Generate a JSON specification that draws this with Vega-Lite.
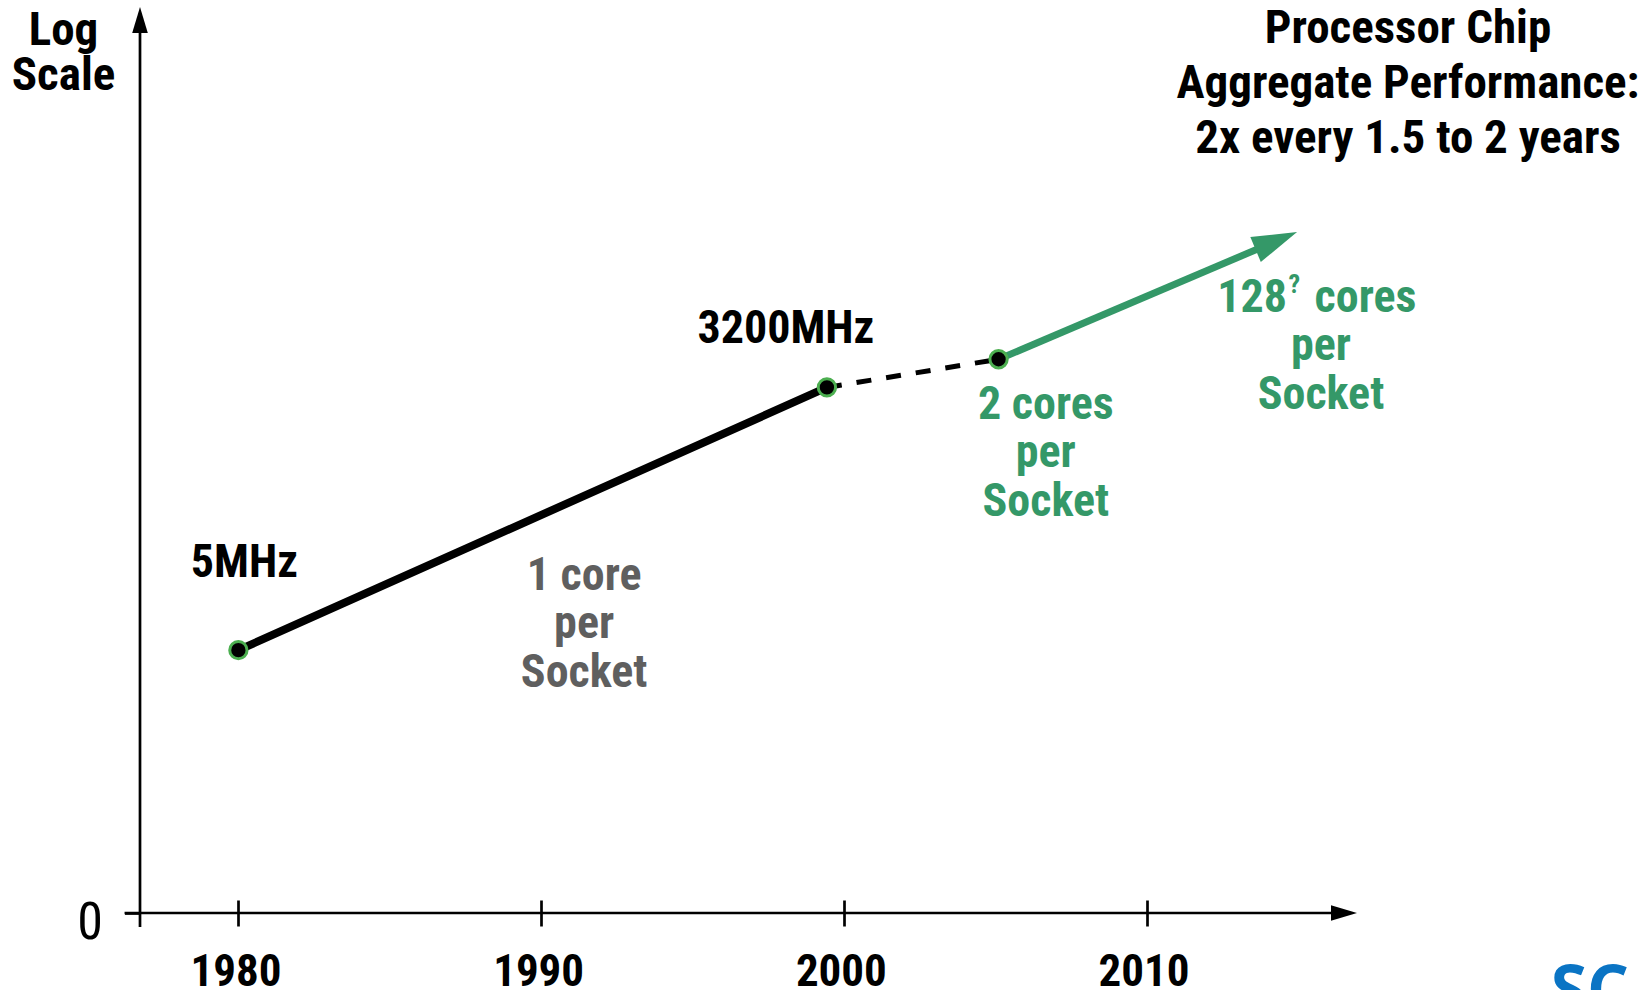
{
  "$schema": "https://vega.github.io/schema/vega-lite/v6.json",
  "width": 1217,
  "height": 906,
  "autosize": {"type": "none"},
  "padding": {"left": 140, "top": 7, "right": 295, "bottom": 77},
  "background": "white",
  "config": {
    "view": {"stroke": null},
    "font": "Roboto Condensed, Liberation Sans, sans-serif"
  },
  "title": {
    "text": ["Processor Chip", "Aggregate Performance:", "2x every 1.5 to 2 years"],
    "anchor": "end",
    "frame": "group",
    "align": "center",
    "baseline": "top",
    "offset": 0,
    "dx": 51,
    "dy": 157,
    "fontSize": 47,
    "fontWeight": "bold",
    "lineHeight": 55,
    "color": "#000000",
    "font": "Roboto Condensed, Liberation Sans, sans-serif"
  },
  "datasets": {
    "trend": [
      {"year": 1980, "mhz": 5, "segment": "single-core"},
      {"year": 1999.44, "mhz": 3200, "segment": "single-core"},
      {"year": 1999.44, "mhz": 3200, "segment": "transition"},
      {"year": 2005.11, "mhz": 6400, "segment": "transition"},
      {"year": 2005.11, "mhz": 6400, "segment": "multi-core"},
      {"year": 2014.0, "mhz": 107000, "segment": "multi-core"}
    ],
    "milestones": [
      {"year": 1980, "mhz": 5, "label": "5MHz"},
      {"year": 1999.44, "mhz": 3200, "label": "3200MHz"},
      {"year": 2005.11, "mhz": 6400, "label": ""}
    ],
    "projection": [{"year": 2014.97, "mhz": 146000}],
    "axisLines": [
      {"line": "time", "year": 1976.24, "year2": 2016.4, "mhz": 0.0078},
      {"line": "performance", "year": 1976.75, "mhz": 0.00553, "mhz2": 19500000}
    ],
    "axisHeads": [
      {"line": "time", "year": 2016.95, "mhz": 0.0078},
      {"line": "performance", "year": 1976.75, "mhz": 37000000}
    ],
    "notes": [
      {"note": "single", "year": 1991.42, "mhz": 22, "text": ["1 core", "per", "Socket"]},
      {"note": "dual", "year": 2006.67, "mhz": 1473, "text": ["2 cores", "per", "Socket"]},
      {"note": "many", "year": 2015.76, "mhz": 6282, "text": ["per", "Socket"]},
      {"note": "many-count", "year": 2014.64, "mhz": 20470, "text": "128"},
      {"note": "many-mark", "year": 2014.69, "mhz": 32670, "text": "?"},
      {"note": "many-unit", "year": 2015.55, "mhz": 20470, "text": "cores"},
      {"note": "logo", "year": 2023.35, "mhz": 0.00066, "text": "SC"}
    ]
  },
  "encoding": {
    "x": {
      "field": "year",
      "type": "quantitative",
      "scale": {"domain": [1976.75, 2016.95], "nice": false, "zero": false},
      "axis": {
        "values": [1980, 1990, 2000, 2010],
        "format": "d",
        "title": null,
        "grid": false,
        "domain": false,
        "offset": -13,
        "ticks": true,
        "tickSize": 26,
        "tickWidth": 2.7,
        "tickColor": "#000000",
        "labelPadding": 23,
        "labelOffset": -3,
        "labelFontSize": 45,
        "labelFontWeight": "bold",
        "labelColor": "#000000",
        "labelFlush": false,
        "labelOverlap": false
      }
    },
    "y": {
      "field": "mhz",
      "type": "quantitative",
      "scale": {"type": "log", "domain": [0.0078, 37000000], "nice": false},
      "axis": {
        "values": [0.0078],
        "labelExpr": "'0'",
        "grid": false,
        "domain": false,
        "ticks": true,
        "tickSize": 15.5,
        "tickWidth": 2.7,
        "tickColor": "#000000",
        "labelPadding": 22,
        "labelOffset": 9,
        "labelFontSize": 52,
        "labelFontWeight": "normal",
        "labelColor": "#000000",
        "labelFlush": false,
        "title": ["Log", "Scale"],
        "titleAngle": 0,
        "titleX": -77,
        "titleY": 37,
        "titleAlign": "center",
        "titleBaseline": "alphabetic",
        "titleFontSize": 47,
        "titleFontWeight": "bold",
        "titleLineHeight": 45,
        "titleColor": "#000000"
      }
    }
  },
  "layer": [
    {
      "data": {"name": "axisLines"},
      "transform": [{"filter": "datum.line === 'time'"}],
      "mark": {"type": "rule", "strokeWidth": 2.7, "color": "#000000"},
      "encoding": {"x2": {"field": "year2"}}
    },
    {
      "data": {"name": "axisLines"},
      "transform": [{"filter": "datum.line === 'performance'"}],
      "mark": {"type": "rule", "strokeWidth": 2.7, "color": "#000000"},
      "encoding": {"y2": {"field": "mhz2"}}
    },
    {
      "data": {"name": "axisHeads"},
      "transform": [{"filter": "datum.line === 'time'"}],
      "mark": {"type": "point", "shape": "M0,0L-1,-0.3L-1,0.3Z", "size": 2704, "filled": true, "opacity": 1, "color": "#000000", "angle": 0}
    },
    {
      "data": {"name": "axisHeads"},
      "transform": [{"filter": "datum.line === 'performance'"}],
      "mark": {"type": "point", "shape": "M0,0L-1,-0.3L-1,0.3Z", "size": 2704, "filled": true, "opacity": 1, "color": "#000000", "angle": 270}
    },
    {
      "data": {"name": "trend"},
      "transform": [{"filter": "datum.segment === 'single-core'"}],
      "mark": {"type": "line", "strokeWidth": 8, "color": "#000000", "strokeCap": "round"}
    },
    {
      "data": {"name": "trend"},
      "transform": [{"filter": "datum.segment === 'transition'"}],
      "mark": {"type": "line", "strokeWidth": 5, "color": "#000000", "strokeDash": [15, 15]}
    },
    {
      "data": {"name": "trend"},
      "transform": [{"filter": "datum.segment === 'multi-core'"}],
      "mark": {"type": "line", "strokeWidth": 7, "color": "#349868"}
    },
    {
      "data": {"name": "projection"},
      "mark": {"type": "point", "shape": "M0,0L-1,-0.3L-1,0.3Z", "size": 8100, "filled": true, "opacity": 1, "color": "#349868", "angle": 337.2}
    },
    {
      "data": {"name": "milestones"},
      "mark": {"type": "point", "shape": "circle", "size": 300, "filled": true, "opacity": 1, "fill": "#000000", "stroke": "#4caf50", "strokeWidth": 3}
    },
    {
      "data": {"name": "milestones"},
      "transform": [{"filter": "datum.label === '5MHz'"}],
      "mark": {"type": "text", "fontSize": 46, "fontWeight": "bold", "color": "#000000", "align": "center", "baseline": "alphabetic", "dx": 6, "dy": -73},
      "encoding": {"text": {"field": "label"}}
    },
    {
      "data": {"name": "milestones"},
      "transform": [{"filter": "datum.label === '3200MHz'"}],
      "mark": {"type": "text", "fontSize": 46, "fontWeight": "bold", "color": "#000000", "align": "center", "baseline": "alphabetic", "dx": -41, "dy": -44},
      "encoding": {"text": {"field": "label"}}
    },
    {
      "data": {"name": "notes"},
      "transform": [{"filter": "datum.note === 'single'"}],
      "mark": {"type": "text", "fontSize": 46, "fontWeight": "bold", "color": "#5f5f5f", "align": "center", "baseline": "alphabetic", "lineHeight": 48.5},
      "encoding": {"text": {"field": "text"}}
    },
    {
      "data": {"name": "notes"},
      "transform": [{"filter": "datum.note === 'dual' || datum.note === 'many'"}],
      "mark": {"type": "text", "fontSize": 46, "fontWeight": "bold", "color": "#349868", "align": "center", "baseline": "alphabetic", "lineHeight": 48.5},
      "encoding": {"text": {"field": "text"}}
    },
    {
      "data": {"name": "notes"},
      "transform": [{"filter": "datum.note === 'many-count'"}],
      "mark": {"type": "text", "fontSize": 46, "fontWeight": "bold", "color": "#349868", "align": "right", "baseline": "alphabetic"},
      "encoding": {"text": {"field": "text"}}
    },
    {
      "data": {"name": "notes"},
      "transform": [{"filter": "datum.note === 'many-mark'"}],
      "mark": {"type": "text", "fontSize": 26, "fontWeight": "bold", "color": "#349868", "align": "left", "baseline": "alphabetic"},
      "encoding": {"text": {"field": "text"}}
    },
    {
      "data": {"name": "notes"},
      "transform": [{"filter": "datum.note === 'many-unit'"}],
      "mark": {"type": "text", "fontSize": 46, "fontWeight": "bold", "color": "#349868", "align": "left", "baseline": "alphabetic"},
      "encoding": {"text": {"field": "text"}}
    },
    {
      "data": {"name": "notes"},
      "transform": [{"filter": "datum.note === 'logo'"}],
      "mark": {"type": "text", "fontSize": 66, "fontWeight": "bold", "color": "#0a74c4", "align": "left", "baseline": "alphabetic", "font": "Open Sans"},
      "encoding": {"text": {"field": "text"}}
    }
  ]
}
